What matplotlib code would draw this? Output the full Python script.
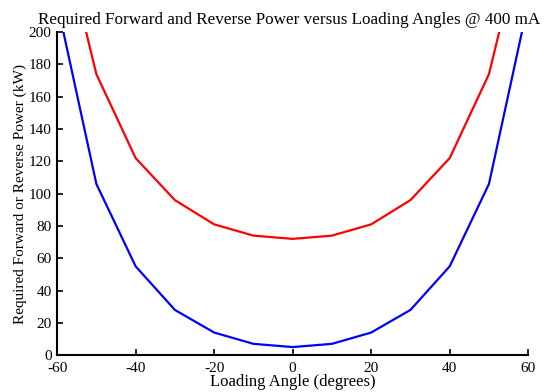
import numpy as np
import matplotlib
matplotlib.use('Agg')
import matplotlib.pyplot as plt

angle = [-60, -50, -40, -30, -20, -10, 0, 10, 20, 30, 40, 50, 60]
forward = [274, 174, 122, 96, 81, 74, 72, 74, 81, 96, 122, 174, 274]
reverse = [218, 106, 55, 28, 14, 7, 5, 7, 14, 28, 55, 106, 218]

plt.rcParams['font.family'] = ['Liberation Serif', 'DejaVu Serif']
plt.rcParams['font.size'] = 10.5
plt.rcParams['axes.unicode_minus'] = False

fig = plt.figure(figsize=(5.44, 3.92), dpi=100)
ax = fig.add_axes([0.105, 0.094, 0.866, 0.824])

ax.plot(angle, forward, color='red', lw=1.6)
ax.plot(angle, reverse, color='blue', lw=1.6)

ax.set_xlim(-60, 60)
ax.set_ylim(0, 200)
ax.set_xticks(np.arange(-60, 61, 20))
ax.set_yticks(np.arange(0, 201, 20))
ax.spines['top'].set_visible(False)
ax.spines['right'].set_visible(False)
ax.spines['left'].set_linewidth(1.5)
ax.spines['bottom'].set_linewidth(1.5)
ax.tick_params(direction='in', length=4, width=1.2, labelsize=11)
ax.tick_params(axis='x', pad=5)
ax.tick_params(axis='y', pad=4)

ax.set_xlabel('Loading Angle (degrees)', labelpad=-1, fontsize=12)
ax.set_ylabel('Required Forward or Reverse Power (kW)', labelpad=1, fontsize=11)
ax.set_title('Required Forward and Reverse Power versus Loading Angles @ 400 mA',
             pad=6, fontsize=12.3, x=0.493)

fig.savefig('out.png', dpi=100)
